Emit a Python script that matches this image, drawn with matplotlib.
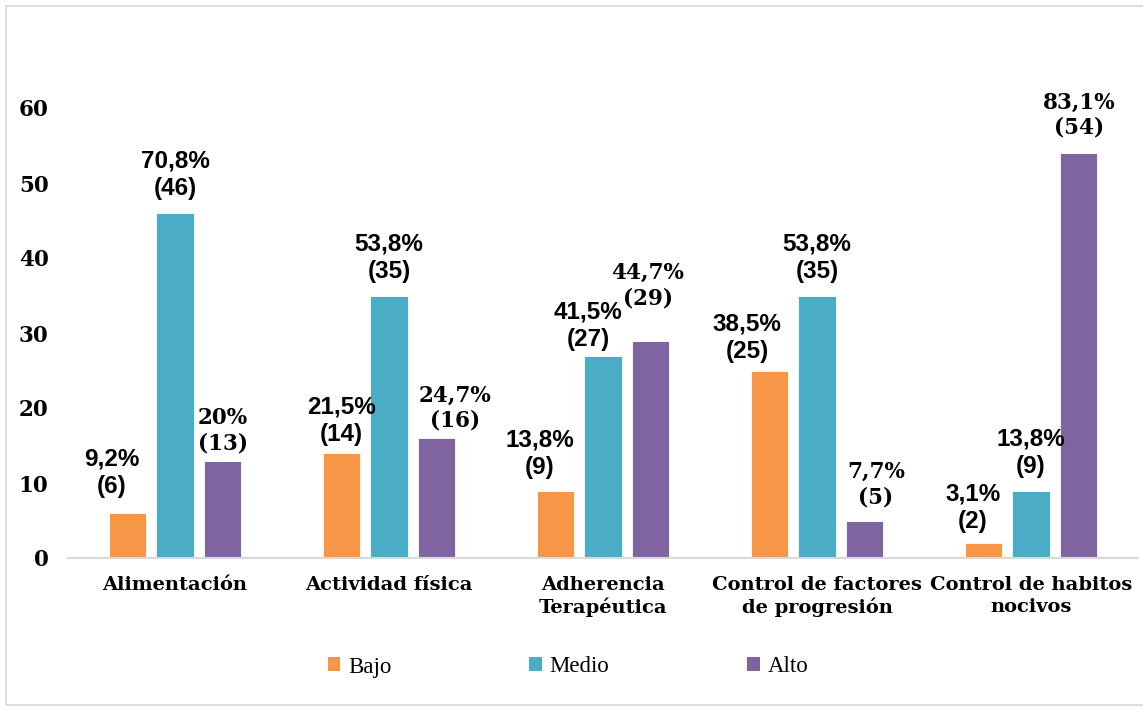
import numpy as np
import matplotlib
matplotlib.use("Agg")
import matplotlib.pyplot as plt
from matplotlib import font_manager
from matplotlib.patches import Rectangle, Patch

categories = ["Alimentación", "Actividad física", "Adherencia\nTerapéutica",
              "Control de factores\nde progresión", "Control de habitos\nnocivos"]
series = ["Bajo", "Medio", "Alto"]
bajo = [6, 14, 9, 25, 2]
medio = [46, 35, 27, 35, 9]
alto = [13, 16, 29, 5, 54]
bajo_pct = [9.2, 21.5, 13.8, 38.5, 3.1]
medio_pct = [70.8, 53.8, 41.5, 53.8, 13.8]
alto_pct = [20, 24.7, 44.7, 7.7, 83.1]
yticks = [0, 10, 20, 30, 40, 50, 60]

colors = ["#F79646", "#4BACC6", "#8064A2"]

# regular-width Liberation Sans Bold file (not the Narrow one)
sans_file = None
for f in font_manager.findSystemFonts():
    if f.endswith("LiberationSans-Bold.ttf"):
        sans_file = f
        break
if sans_file:
    sans_fp = font_manager.FontProperties(fname=sans_file, size=17.5)
else:
    sans_fp = font_manager.FontProperties(family="DejaVu Sans", weight="bold", size=16)
serif_fp = font_manager.FontProperties(family="DejaVu Serif", weight="bold", size=15.5)

# label nudges in pixels (dx, height of label centre above bar top)
nudge = {
    (0, 0): (-15, 40), (0, 2): (0, 30),
    (1, 0): (0, 32), (1, 2): (18, 30),
    (2, 0): (-15, 37), (2, 1): (-15, 30), (2, 2): (-3, 55),
    (3, 0): (-22, 33), (3, 2): (11, 36),
    (4, 0): (-10, 35),
}

fig = plt.figure(figsize=(11.43, 7.08), dpi=100)
fig.patches.append(Rectangle((6 / 1143, 3 / 708), 1.0, 1 - 9 / 708,
                             transform=fig.transFigure, fill=False,
                             edgecolor="#d9d9d9", linewidth=1.2))

ax = fig.add_axes([68 / 1143, 150 / 708, 1070 / 1143, 525 / 708])

x = np.arange(len(categories))
step = 0.224
width = 0.173
values = [bajo, medio, alto]
pcts = [bajo_pct, medio_pct, alto_pct]
pt = 0.72  # points per pixel at 100 dpi

for s in range(3):
    xs = x + (s - 1) * step
    ax.bar(xs, values[s], width, color=colors[s], edgecolor="white",
           linewidth=0.6, label=series[s], zorder=2)
    for i in range(len(categories)):
        dx, dy = nudge.get((i, s), (0, 38))
        txt = "{}%\n({})".format(("%g" % pcts[s][i]).replace(".", ","), values[s][i])
        if s == 2:
            fp, ls = serif_fp, 1.2
        else:
            fp, ls = sans_fp, 1.25
        ax.annotate(txt, (xs[i], values[s][i]), xytext=(dx * pt, dy * pt),
                    textcoords="offset points", ha="center", va="center",
                    fontproperties=fp, linespacing=ls, annotation_clip=False)

ax.set_xlim(-0.5, 4.5)
ax.set_ylim(0, 70)
ax.set_yticks(yticks)
ax.set_yticklabels([str(v) for v in yticks], family="DejaVu Serif",
                   fontweight="bold", fontsize=15.5)
ax.set_xticks(x)
ax.set_xticklabels(categories, family="DejaVu Serif", fontweight="bold",
                   fontsize=14, linespacing=1.25)
ax.tick_params(axis="y", length=0, pad=14)
ax.tick_params(axis="x", length=0, pad=13)
for side in ["top", "right", "left"]:
    ax.spines[side].set_visible(False)
ax.spines["bottom"].set_color("#d9d9d9")
ax.spines["bottom"].set_linewidth(1.5)

handles = [Patch(facecolor=c, edgecolor="none") for c in colors]
fig.legend(handles, series, loc="center", bbox_to_anchor=(568 / 1143, 1 - 667 / 708),
           ncol=3, frameon=False, prop=dict(family="Liberation Serif", size=16.5),
           handlelength=0.55, handleheight=0.55, handletextpad=0.35,
           columnspacing=6.0)

fig.savefig("out.png", dpi=100)
